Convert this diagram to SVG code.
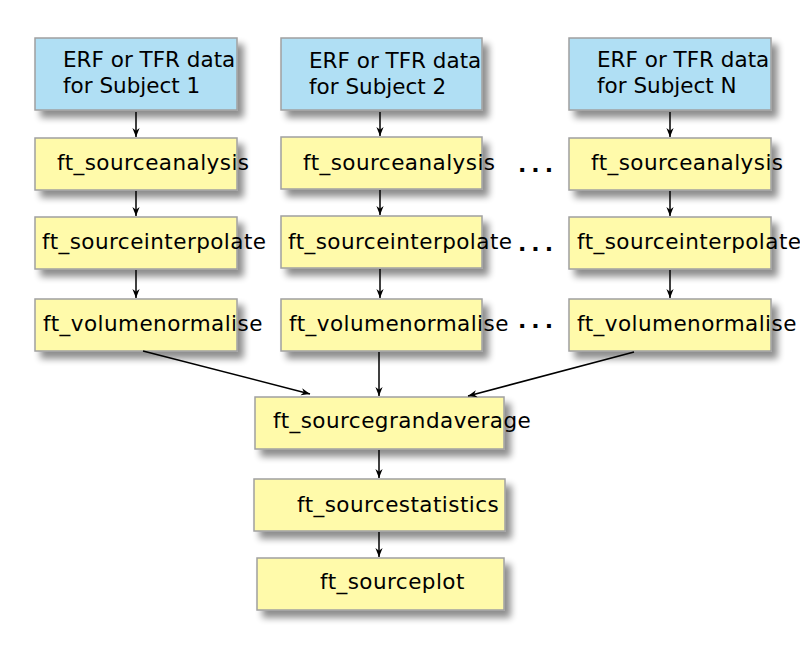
<svg xmlns="http://www.w3.org/2000/svg" width="800" height="659" viewBox="0 0 800 659">
<defs>
<filter id="sh" x="-20%" y="-30%" width="150%" height="180%">
<feGaussianBlur in="SourceAlpha" stdDeviation="3.5"/>
<feOffset dx="6" dy="7" result="b"/>
<feComponentTransfer><feFuncA type="linear" slope="0.45"/></feComponentTransfer>
<feMerge><feMergeNode/><feMergeNode in="SourceGraphic"/></feMerge>
</filter>
<marker id="ah" viewBox="0 0 10 10" refX="10" refY="5" markerWidth="9" markerHeight="9" markerUnits="userSpaceOnUse" orient="auto">
<path d="M0,1 L10,5 L0,9 L3,5 Z" fill="#000"/>
</marker>
<style>
.b{fill:#b0dff4;stroke:#a0a0a0;stroke-width:1.5;filter:url(#sh)}
.y{fill:#fffaaa;stroke:#a0a0a0;stroke-width:1.5;filter:url(#sh)}
text{font-family:"DejaVu Sans",sans-serif;font-size:21.5px;fill:#000}
.t{letter-spacing:0.45px}
.d{font-weight:bold;font-size:22px;letter-spacing:5px}
.c line{stroke:#000;stroke-width:1.5;marker-end:url(#ah)}
</style>
</defs>
<rect width="800" height="659" fill="#fff"/>
<g id="s1"><rect class="b" x="35" y="38" width="202" height="72"/><text x="63" y="67">ERF or TFR data</text><text x="63" y="93">for Subject 1</text></g>
<g id="s2"><rect class="b" x="281" y="38" width="201" height="72"/><text x="309" y="68">ERF or TFR data</text><text x="309" y="94">for Subject 2</text></g>
<g id="sN"><rect class="b" x="569" y="38" width="202" height="72"/><text x="597" y="67">ERF or TFR data</text><text x="597" y="93">for Subject N</text></g>
<g id="a1"><rect class="y" x="35" y="138" width="202" height="52"/><text class="t" x="57" y="170">ft_sourceanalysis</text></g>
<g id="a2"><rect class="y" x="281" y="137" width="201" height="52"/><text class="t" x="303" y="170">ft_sourceanalysis</text></g>
<g id="aN"><rect class="y" x="569" y="138" width="202" height="52"/><text class="t" x="591" y="170">ft_sourceanalysis</text></g>
<g id="i1"><rect class="y" x="35" y="217" width="202" height="52"/><text class="t" x="42" y="249">ft_sourceinterpolate</text></g>
<g id="i2"><rect class="y" x="281" y="216" width="201" height="52"/><text class="t" x="288" y="249">ft_sourceinterpolate</text></g>
<g id="iN"><rect class="y" x="569" y="217" width="202" height="52"/><text class="t" x="577" y="249">ft_sourceinterpolate</text></g>
<g id="v1"><rect class="y" x="35" y="299" width="202" height="52"/><text class="t" x="43" y="331">ft_volumenormalise</text></g>
<g id="v2"><rect class="y" x="281" y="299" width="201" height="52"/><text class="t" x="289" y="331">ft_volumenormalise</text></g>
<g id="vN"><rect class="y" x="569" y="299" width="202" height="52"/><text class="t" x="577" y="331">ft_volumenormalise</text></g>
<g id="ga"><rect class="y" x="255" y="397" width="249" height="52"/><text class="t" x="273" y="428">ft_sourcegrandaverage</text></g>
<g id="st"><rect class="y" x="254" y="479" width="251" height="52"/><text class="t" x="297" y="512">ft_sourcestatistics</text></g>
<g id="pl"><rect class="y" x="257" y="558" width="247" height="52"/><text class="t" x="320" y="589">ft_sourceplot</text></g>
<g id="dots"><text class="d" x="518" y="172">...</text><text class="d" x="518" y="251">...</text><text class="d" x="518" y="328">...</text></g>
<g id="connectors" class="c">
<line x1="136" y1="112" x2="136" y2="137"/>
<line x1="380" y1="112" x2="380" y2="136"/>
<line x1="670" y1="112" x2="670" y2="137"/>
<line x1="136" y1="191" x2="136" y2="216"/>
<line x1="380" y1="190" x2="380" y2="215"/>
<line x1="670" y1="191" x2="670" y2="216"/>
<line x1="136" y1="270" x2="136" y2="298"/>
<line x1="380" y1="269" x2="380" y2="298"/>
<line x1="670" y1="270" x2="670" y2="298"/>
<line x1="143" y1="351" x2="310" y2="394"/>
<line x1="379" y1="352" x2="379" y2="396"/>
<line x1="634" y1="352" x2="468" y2="396"/>
<line x1="379" y1="450" x2="379" y2="478"/>
<line x1="379" y1="532" x2="379" y2="557"/>
</g>
</svg>
